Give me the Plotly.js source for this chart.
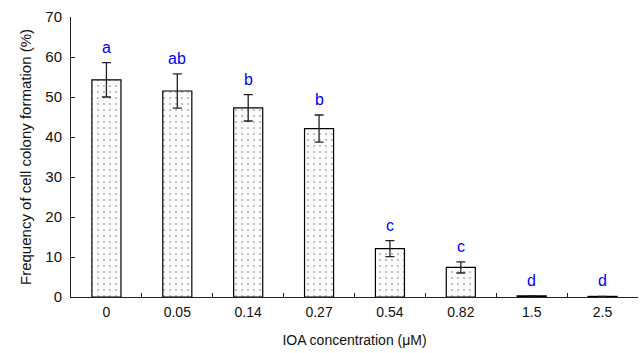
<!DOCTYPE html>
<html>
<head>
<meta charset="utf-8">
<script src="https://cdn.plot.ly/plotly-3.0.1.min.js"></script>
<style>html,body{margin:0;padding:0;background:#fff;}#chart{width:640px;height:353px;}</style>
</head>
<body>
<div id="chart"></div>
<script>
const categories = ['0', '0.05', '0.14', '0.27', '0.54', '0.82', '1.5', '2.5'];
const frequency = [54.3, 51.5, 47.3, 42.1, 12.1, 7.4, 0.3, 0.15];
const stdError = [4.3, 4.3, 3.3, 3.4, 2.0, 1.4, 0, 0];
const groupLetters = ['a', 'ab', 'b', 'b', 'c', 'c', 'd', 'd'];

const trace = {
  type: 'bar',
  x: categories,
  y: frequency,
  width: 0.41,
  marker: {
    color: '#fcfcfc',
    line: {color: '#000', width: 1.2},
    pattern: {shape: '.', fgcolor: '#b4b4b4', bgcolor: '#fcfcfc', size: 6, solidity: 0.1}
  },
  error_y: {type: 'data', array: stdError, visible: true, color: '#222', thickness: 1.3, width: 4.5},
  hoverinfo: 'skip'
};

const annotations = categories.map((c, i) => ({
  x: i, y: frequency[i] + stdError[i],
  text: groupLetters[i], showarrow: false,
  xref: 'x', yref: 'y', yanchor: 'bottom', yshift: 5,
  font: {family: 'Liberation Sans, Arial, sans-serif', size: 16, color: '#0000ff'}
}));

const layout = {
  width: 640, height: 353,
  margin: {l: 71, r: 2, t: 17, b: 56},
  paper_bgcolor: '#fff', plot_bgcolor: '#fff',
  showlegend: false,
  font: {family: 'Liberation Sans, Arial, sans-serif', size: 14, color: '#111'},
  xaxis: {
    type: 'category',
    showline: true, linecolor: '#222', linewidth: 1,
    ticks: 'inside', ticklen: 4, tickcolor: '#222', tickson: 'boundaries',
    showgrid: false, zeroline: false,
    tickfont: {size: 14}, ticklabelstandoff: 2,
    title: {text: 'IOA concentration (μM)', font: {size: 14}, standoff: 16}
  },
  yaxis: {
    range: [0, 70], dtick: 10,
    showline: true, linecolor: '#222', linewidth: 1,
    ticks: 'inside', ticklen: 4, tickcolor: '#222',
    showgrid: false, zeroline: false,
    tickfont: {size: 15}, ticklabelstandoff: 5,
    title: {text: 'Frequency of cell colony formation (%)', font: {size: 15}, standoff: 10}
  },
  annotations: annotations
};

Plotly.newPlot('chart', [trace], layout, {displayModeBar: false, staticPlot: true});
</script>
</body>
</html>
